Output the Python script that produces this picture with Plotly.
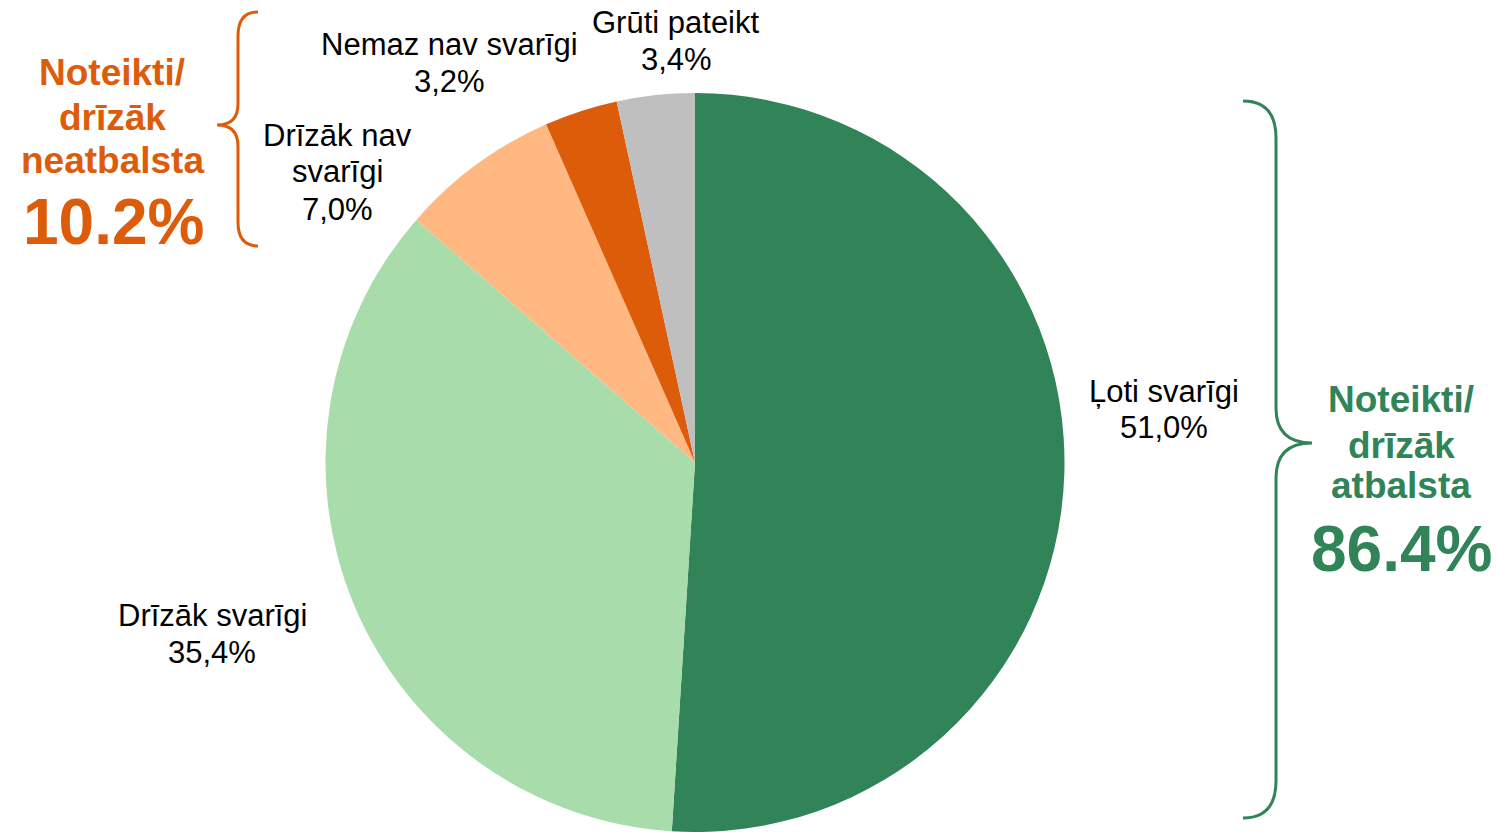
import plotly.graph_objects as go

categories = ["Ļoti svarīgi", "Drīzāk svarīgi", "Drīzāk nav svarīgi", "Nemaz nav svarīgi", "Grūti pateikt"]
values = [51.0, 35.4, 7.0, 3.2, 3.4]
label_lines = [["Ļoti svarīgi"], ["Drīzāk svarīgi"], ["Drīzāk nav", "svarīgi"], ["Nemaz nav svarīgi"], ["Grūti pateikt"]]
colors = ["#318457", "#a8dcab", "#ffb881", "#dd5c0a", "#bfbfbf"]
support_lines = ["Noteikti/", "drīzāk", "atbalsta"]
oppose_lines = ["Noteikti/", "drīzāk", "neatbalsta"]
support_total = "86.4%"
oppose_total = "10.2%"

W, H = 1497, 832
GREEN = "#318457"
ORANGE = "#dd5c0a"
FONT = "Liberation Sans, Arial, sans-serif"

def px(x):
    return x / W

def py(y):
    return 1 - y / H

fig = go.Figure()
fig.add_trace(go.Pie(
    labels=categories, values=values, sort=False, direction="clockwise", rotation=0,
    marker=dict(colors=colors, line=dict(width=0)),
    textinfo="none", showlegend=False,
    domain=dict(x=[px(325), px(1065)], y=[0, 739 / H]),
))

def add_text(x, y, text, size, color, bold=False):
    t = f"<b>{text}</b>" if bold else text
    fig.add_annotation(x=px(x), y=py(y), xref="paper", yref="paper", text=t,
                       showarrow=False, xanchor="center", yanchor="middle",
                       font=dict(family=FONT, size=size, color=color))

# label positions: (centre x, first line y), line spacing 37
label_pos = [(1164, 391), (212, 615), (337, 135), (449, 45), (676, 22)]
for lines, v, (x, y) in zip(label_lines, values, label_pos):
    all_lines = lines + [f"{v:.1f}%".replace(".", ",")]
    for i, ln in enumerate(all_lines):
        add_text(x, y + 37 * i, ln, 31, "black")

# group labels
for ln, y in zip(oppose_lines, [72, 117, 160]):
    add_text(112, y, ln, 37, ORANGE, bold=True)
add_text(113, 222, oppose_total, 64, ORANGE, bold=True)
for ln, y in zip(support_lines, [399, 445, 485]):
    add_text(1401, y, ln, 37, GREEN, bold=True)
add_text(1401, 549, support_total, 64, GREEN, bold=True)

def path(cmds):
    out = []
    for c in cmds:
        if isinstance(c, str):
            out.append(c)
        else:
            out.append(f"{px(c[0]):.5f},{py(c[1]):.5f}")
    return " ".join(out)

left_brace = path(["M", (258, 12), "Q", (238, 12), (238, 36), "L", (238, 104), "Q", (238, 125), (217, 125),
                   "Q", (238, 125), (238, 146), "L", (238, 222), "Q", (238, 246), (258, 246)])
right_brace = path(["M", (1243, 101), "Q", (1276, 101), (1276, 138), "L", (1276, 408), "Q", (1276, 443), (1312, 443),
                    "Q", (1276, 443), (1276, 478), "L", (1276, 781), "Q", (1276, 818), (1243, 818)])
fig.add_shape(type="path", path=left_brace, xref="paper", yref="paper", line=dict(color=ORANGE, width=3))
fig.add_shape(type="path", path=right_brace, xref="paper", yref="paper", line=dict(color=GREEN, width=3))

fig.update_layout(width=W, height=H, margin=dict(l=0, r=0, t=0, b=0),
                  paper_bgcolor="white", plot_bgcolor="white")
fig.write_html("out.html", config={"displayModeBar": False},
               post_script="document.body.style.margin='0px';document.body.style.overflow='hidden';")
